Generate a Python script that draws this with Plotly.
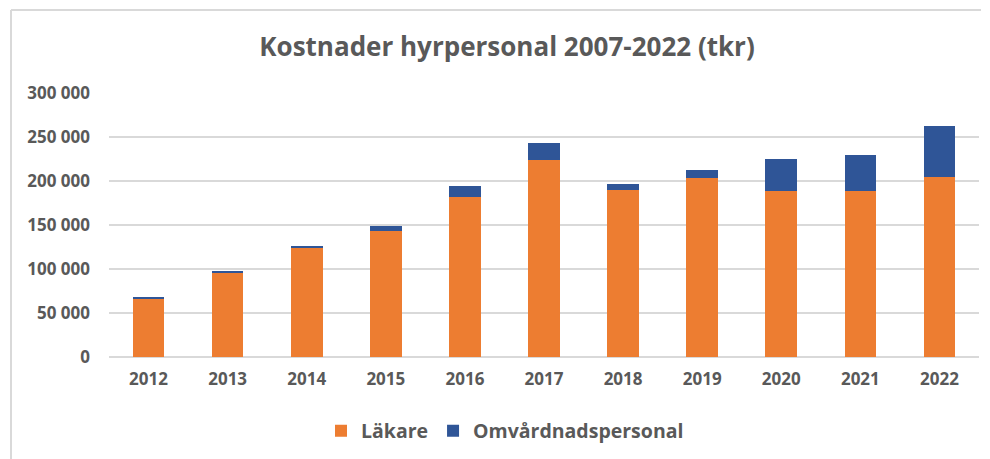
import plotly.graph_objects as go

years = ["2012", "2013", "2014", "2015", "2016", "2017", "2018", "2019", "2020", "2021", "2022"]
lakare = [66000, 95000, 124500, 143000, 182000, 224000, 190000, 203000, 189000, 189000, 204000]
omvard = [1500, 3000, 1000, 6000, 12500, 19000, 7000, 10000, 36500, 40000, 58000]
y_ticks = [0, 50000, 100000, 150000, 200000, 250000, 300000]
y_tick_text = ["0", "50 000", "100 000", "150 000", "200 000", "250 000", "300 000"]

W, H = 990, 459
L, R, T, B = 109, 990 - 979, 93, 459 - 357

fig = go.Figure()
fig.add_trace(go.Bar(x=years, y=lakare, name="Läkare", marker=dict(color="#ED7D31", line=dict(width=0))))
fig.add_trace(go.Bar(x=years, y=omvard, name="Omvårdnadspersonal", marker=dict(color="#2F5597", line=dict(width=0))))

pw = W - L - R
ph = H - T - B
def px(x):
    return (x - L) / pw
def py(y):
    return (H - B - y) / ph

fig.update_layout(
    width=W, height=H,
    barmode="stack", bargap=0.6,
    margin=dict(l=L, r=R, t=T, b=B, autoexpand=False),
    paper_bgcolor="white", plot_bgcolor="white",
    font=dict(family="Open Sans", color="#595959"),
    title=dict(text="<b>Kostnader hyrpersonal 2007-2022 (tkr)</b>", x=px(507), xanchor="center",
               y=1 - 47 / H, yanchor="middle", xref="paper",
               font=dict(family="Open Sans", size=26, color="#595959")),
    xaxis=dict(showgrid=False, showline=False, ticks="", tickfont=dict(size=17, family="Open Sans", weight="bold"),
               ticklabelstandoff=10),
    yaxis=dict(range=[0, 300000], tickvals=y_ticks, ticktext=y_tick_text, showgrid=True,
               gridcolor="#D9D9D9", gridwidth=1.5, zeroline=True, zerolinecolor="#D9D9D9",
               zerolinewidth=1.5, showline=False, ticks="",
               tickfont=dict(size=17, family="Open Sans", weight="bold"), ticklabelstandoff=18),
    legend=dict(orientation="h", x=px(321), xanchor="left", y=py(431), yanchor="middle",
                font=dict(size=19.5, family="Open Sans", color="#595959", weight="bold"), traceorder="normal",
                itemwidth=30),
    shapes=[
        dict(type="line", xref="paper", yref="paper", x0=px(11), x1=px(981), y0=py(10), y1=py(10),
             line=dict(color="#D9D9D9", width=2)),
        dict(type="line", xref="paper", yref="paper", x0=px(11), x1=px(11), y0=py(10), y1=py(459),
             line=dict(color="#D9D9D9", width=2)),
    ],
)

fig.write_html("out.html", config={"displayModeBar": False},
               post_script="document.body.style.margin='0';document.body.style.padding='0';")
